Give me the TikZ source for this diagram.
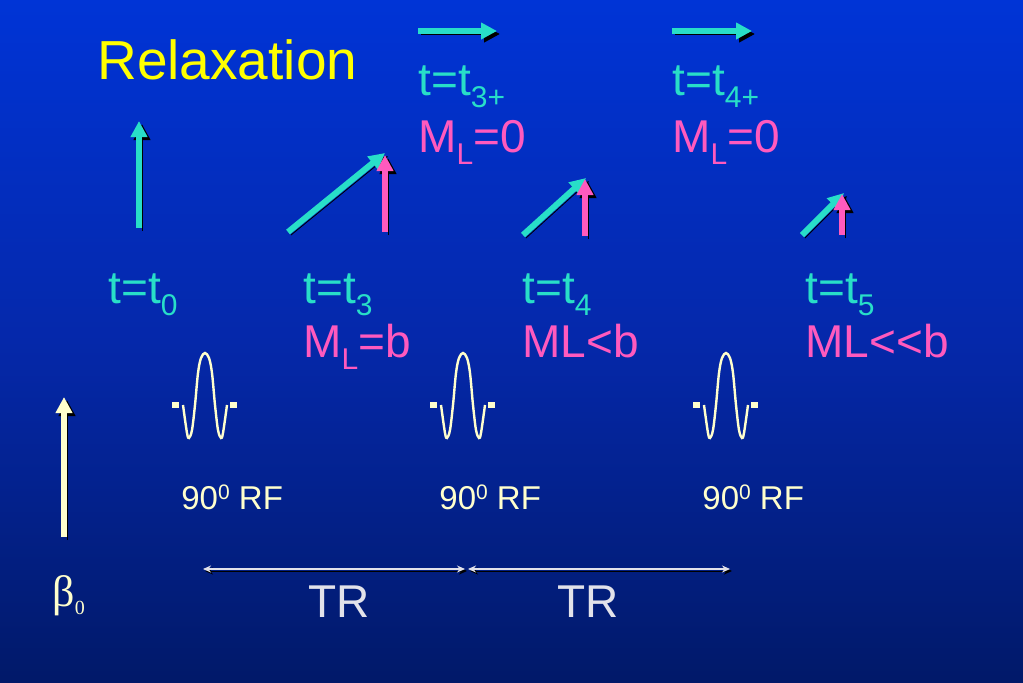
\documentclass[tikz,border=0pt]{standalone}
\usepackage{fontspec}
\setmainfont{Liberation Sans}
\newfontfamily\serifgreek{Liberation Serif}
\usetikzlibrary{arrows.meta}
\usetikzlibrary{positioning}
\definecolor{turq}{RGB}{40,222,200}
\definecolor{pinkm}{RGB}{255,90,190}
\definecolor{cream}{RGB}{255,255,205}
\definecolor{yell}{RGB}{255,255,0}
\definecolor{lgray}{RGB}{226,226,234}
\definecolor{bgtop}{RGB}{0,60,232}
\definecolor{bghigh}{RGB}{0,52,214}
\definecolor{bgmid}{RGB}{5,40,170}
\definecolor{bglow}{RGB}{0,22,92}
\definecolor{bgbot}{RGB}{0,15,60}
\pgfdeclareverticalshading{slidebg}{100bp}{color(0bp)=(bgbot); color(20bp)=(bglow);
  color(50bp)=(bgmid); color(75bp)=(bghigh); color(100bp)=(bgtop)}
\newcommand\lowidx[1]{\raisebox{-6pt}{\fontsize{15}{18}\selectfont #1}}
\newcommand\degsup[1]{\raisebox{4.6pt}{\fontsize{10.5}{12}\selectfont #1}}
\tikzset{vec/.style = {line width = 3pt, -{Triangle[length=8pt, width=8pt]},
                       preaction = {draw = black, transform canvas = {shift = {(1.5pt, -1.5pt)}}}}}
\tikzset{trspan/.style = {lgray, line width = 1pt,
                          {Stealth[length=4pt, width=3.5pt]}-{Stealth[length=4pt, width=3.5pt]},
                          preaction = {draw = black, transform canvas = {shift = {(1pt, -1pt)}}}}}
\tikzset{pulse/.style = {cream, line width = 1.2pt}}
\tikzset{lbl/.style = {anchor = base west, inner sep = 0, font = \fontsize{23}{27}\selectfont}}
\tikzset{rflbl/.style = {anchor = base west, inner sep = 0, cream, font = \fontsize{16.5}{19}\selectfont}}

\begin{document}
\begin{tikzpicture}[x = 0.5pt, y = -0.5pt]
        \useasboundingbox (0, 0) rectangle (1023, 682);
        \shade [shading = slidebg] (0, 0) rectangle (1023, 682);
        \node (title) at (97, 79) [lbl, yell, font = \fontsize{27.5}{31}\selectfont] {Relaxation};
        % magnetisation vectors
        \draw [vec, turq] (139, 228) -- (139, 121);
        \draw [vec, turq] (288, 232) -- (385, 153);
        \draw [vec, pinkm] (385, 232) -- (385, 155);
        \draw [vec, turq] (523, 235) -- (586, 178);
        \draw [vec, pinkm] (585, 236) -- (585, 179);
        \draw [vec, turq] (802, 235) -- (844, 193);
        \draw [vec, pinkm] (842, 235) -- (842, 194);
        \draw [vec, turq] (418, 31) -- (497, 31);
        \draw [vec, turq] (672, 31) -- (752, 31);
        % times and longitudinal parts
        \node (t3p) at (418, 95) [lbl, turq] {t=t\lowidx{3+}};
        \node (ml3p) at (418, 152) [lbl, pinkm] {M\lowidx{L}=0};
        \node (t4p) at (672, 95) [lbl, turq] {t=t\lowidx{4+}};
        \node (ml4p) at (672, 152) [lbl, pinkm] {M\lowidx{L}=0};
        \node (t0) at (108, 303) [lbl, turq] {t=t\lowidx{0}};
        \node (t3) at (303, 303) [lbl, turq] {t=t\lowidx{3}};
        \node (ml3) at (303, 357) [lbl, pinkm] {M\lowidx{L}=b};
        \node (t4) at (522, 303) [lbl, turq] {t=t\lowidx{4}};
        \node (ml4) at (522, 357) [lbl, pinkm] {ML<b};
        \node (t5) at (805, 303) [lbl, turq] {t=t\lowidx{5}};
        \node (ml5) at (805, 357) [lbl, pinkm] {ML<\kern0pt<b};
        % rf pulses
        \foreach \cx/\n in {205/1, 463/2, 726/3} {
          \draw [pulse] plot [smooth, tension = 0.55] coordinates {(\cx-22, 405) (\cx-18, 433) (\cx-16, 438)
                          (\cx-13, 430) (\cx-10, 405) (\cx-7, 373) (\cx-4, 358) (\cx, 353) (\cx+4, 358)
                          (\cx+7, 373) (\cx+10, 405) (\cx+13, 430) (\cx+16, 438) (\cx+18, 433) (\cx+22, 405)};
          \fill [cream] (\cx-33, 402) rectangle (\cx-26, 408);
          \fill [cream] (\cx+25, 402) rectangle (\cx+32, 408);
          \node (rf\n) at (\cx-24, 509) [rflbl] {90\degsup{0} RF};
        }
        % main field
        \draw [vec, cream] (64, 537) -- (64, 397);
        \node (b0) at (52, 606) [anchor = base west, inner sep = 0, cream, font = \serifgreek\fontsize{22}{26}\selectfont]
              {β\raisebox{-4pt}{\fontsize{10}{12}\selectfont 0}};
        % repetition time
        \coordinate (tra) at (203, 569);
        \coordinate (trb) at (465, 569);
        \coordinate (trc) at (468, 569);
        \coordinate (trd) at (730, 569);
        \draw [trspan] (tra) -- (trb);
        \draw [trspan] (trc) -- (trd);
        \node (tr1) at (308, 617) [lbl, lgray] {TR};
        \node (tr2) at (557, 617) [lbl, lgray] {TR};
      \end{tikzpicture}
\end{document}
